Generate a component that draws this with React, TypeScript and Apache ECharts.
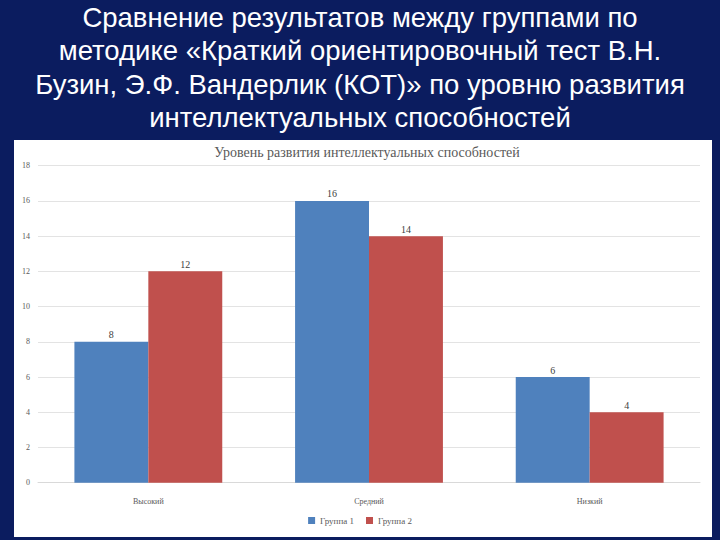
import React, { useEffect, useRef } from "react";
import * as echarts from "echarts";

const categories = ["Высокий", "Средний", "Низкий"];
const group1 = [8, 16, 6];
const group2 = [12, 14, 4];
const seriesNames = ["Группа 1", "Группа 2"];
const slideTitle = [
  "Сравнение результатов между группами по",
  "методике «Краткий ориентировочный тест В.Н.",
  "Бузин, Э.Ф. Вандерлик (КОТ)» по уровню развития",
  "интеллектуальных способностей",
];
const chartTitle = "Уровень развития интеллектуальных способностей";

export default function App() {
  const ref = useRef<HTMLDivElement>(null);
  useEffect(() => {
    document.body.style.margin = "0";
    const chart = echarts.init(ref.current!, undefined, { renderer: "svg" });
    const serif = "'Liberation Serif', 'Times New Roman', serif";
    const labelStyle = { show: true, position: "top", distance: 2, fontSize: 10, color: "#404040", fontFamily: serif };
    chart.setOption({
      animation: false,
      backgroundColor: "#0b1c5f",
      graphic: [
        { type: "rect", shape: { x: 14, y: 140, width: 698, height: 397 }, style: { fill: "#ffffff" }, z: -10 },
      ],
      title: [
        {
          text: slideTitle.join("\n"),
          left: "center",
          top: -4,
          textStyle: { color: "#ffffff", fontSize: 27.5, fontWeight: "normal", fontFamily: "'Liberation Sans', Arial, sans-serif", lineHeight: 33.3 },
        },
        {
          text: chartTitle,
          left: 362,
          textAlign: "center",
          top: 140,
          textStyle: { color: "#595959", fontSize: 14, fontWeight: "normal", fontFamily: serif },
        },
      ],
      legend: {
        bottom: 10,
        left: "center",
        icon: "rect",
        itemWidth: 7,
        itemHeight: 7,
        itemGap: 12,
        itemTextGap: 4,
        textStyle: { fontSize: 9, color: "#595959", fontFamily: serif },
        data: seriesNames,
      },
      grid: { left: 38, right: 20, top: 165.7, bottom: 57.3 },
      xAxis: {
        type: "category",
        data: categories,
        axisLine: { lineStyle: { color: "#d9d9d9" } },
        axisTick: { show: false },
        axisLabel: { fontSize: 8, color: "#595959", fontFamily: serif, margin: 15 },
      },
      yAxis: {
        type: "value",
        min: 0,
        max: 18,
        interval: 2,
        axisLine: { show: false },
        axisTick: { show: false },
        splitLine: { lineStyle: { color: "#e3e3e3" } },
        axisLabel: { fontSize: 8, color: "#595959", fontFamily: serif, margin: 8 },
      },
      series: [
        { name: seriesNames[0], type: "bar", data: group1, barGap: "0%", barCategoryGap: "33%", itemStyle: { color: "#4f81bd" }, label: labelStyle },
        { name: seriesNames[1], type: "bar", data: group2, barGap: "0%", barCategoryGap: "33%", itemStyle: { color: "#c0504d" }, label: labelStyle },
      ],
    });
    return () => chart.dispose();
  }, []);
  return <div ref={ref} style={{ width: 720, height: 540 }} />;
}
